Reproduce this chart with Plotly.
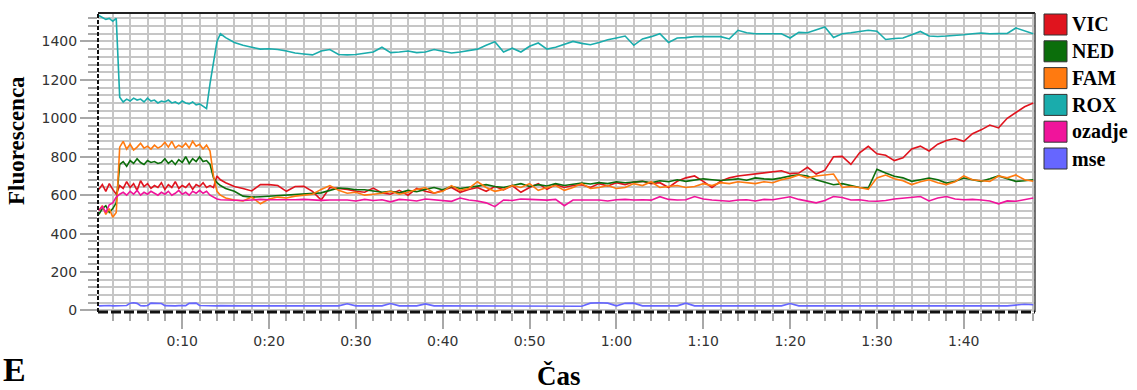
import plotly.graph_objects as go

# ---------------- data ----------------
TIME = [0.4, 0.8, 1.2, 1.6, 2.0, 2.4, 2.8, 3.2, 3.6, 4.0, 4.4, 4.8, 5.2, 5.6, 6.0, 6.4, 6.8, 7.2,
        7.6, 8.0, 8.4, 8.8, 9.2, 9.6, 10.0, 10.4, 10.8, 11.2, 11.6, 12.0, 12.4, 12.8, 13.2, 13.6, 14.0, 14.4,
        15, 16, 17, 18, 19, 20, 21, 22, 23, 24, 25, 26, 27, 28, 29, 30, 31, 32, 33, 34, 35, 36, 37, 38, 39,
        40, 41, 42, 43, 44, 45, 46, 47, 48, 49, 50, 51, 52, 53, 54, 55, 56, 57, 58, 59, 60, 61, 62, 63, 64,
        65, 66, 67, 68, 69, 70, 71, 72, 73, 74, 75, 76, 77, 78, 79, 80, 81, 82, 83, 84, 85, 86, 87, 88, 89,
        90, 91, 92, 93, 94, 95, 96, 97, 98, 99, 100, 101, 102, 103, 104, 105, 106, 107, 108]

VIC = [630, 655, 620, 660, 630, 605, 650, 635, 670, 640, 660, 625, 675, 645, 660, 635, 650, 640,
       665, 630, 655, 640, 670, 635, 650, 640, 660, 630, 655, 645, 665, 640, 650, 640, 700, 680,
       665, 645, 635, 622, 655, 655, 650, 620, 645, 646, 620, 575, 640, 635, 630, 620, 615, 637, 612, 605,
       625, 600, 635, 620, 610, 625, 640, 615, 630, 640, 620, 645, 628, 650, 615, 640, 660, 630, 655, 640,
       650, 654, 640, 660, 648, 665, 655, 668, 672, 660, 665, 640, 672, 690, 700, 672, 640, 672, 690, 700,
       705, 710, 715, 720, 727, 712, 715, 745, 710, 730, 800, 802, 760, 820, 854, 815, 808, 780, 795, 840,
       855, 830, 865, 885, 895, 880, 920, 940, 965, 950, 1000, 1030, 1060, 1080]

NED = [500, 530, 545, 510, 530, 560, 760, 775, 750, 780, 765, 790, 770, 760, 780, 770, 775, 765,
       770, 790, 765, 780, 760, 785, 770, 800, 765, 790, 775, 800, 775, 780, 760, 690, 665, 650,
       635, 620, 595, 590, 592, 595, 600, 600, 602, 605, 608, 612, 625, 637, 635, 628, 628, 622, 615, 620,
       612, 625, 618, 630, 640, 628, 645, 635, 640, 647, 655, 645, 640, 650, 660, 645, 655, 648, 660, 650,
       655, 663, 658, 665, 660, 670, 665, 668, 672, 665, 675, 670, 680, 672, 678, 685, 680, 676, 680, 685,
       678, 690, 685, 682, 690, 700, 706, 700, 680, 665, 654, 660, 648, 640, 637, 735, 715, 698, 690, 672,
       680, 689, 680, 663, 672, 689, 680, 672, 685, 700, 685, 672, 675, 680]

FAM = [520, 545, 500, 530, 485, 510, 850, 880, 840, 865, 835, 850, 870, 845, 855, 840, 860, 845,
       855, 875, 850, 880, 845, 860, 850, 870, 845, 880, 855, 865, 840, 860, 830, 700, 620, 600,
       585, 575, 570, 590, 555, 580, 590, 585, 595, 600, 605, 630, 650, 625, 610, 615, 600, 605, 610, 620,
       605, 615, 630, 640, 610, 620, 650, 625, 635, 670, 640, 620, 630, 650, 640, 660, 625, 640, 650, 625,
       640, 660, 635, 640, 650, 635, 640, 660, 650, 670, 640, 645, 650, 640, 645, 660, 650, 665, 660, 670,
       665, 660, 670, 665, 680, 690, 705, 690, 700, 706, 710, 640, 645, 640, 630, 690, 705, 685, 675, 655,
       670, 680, 665, 655, 670, 700, 680, 675, 672, 700, 690, 705, 680, 672]

ROX = [1535, 1525, 1515, 1520, 1505, 1520, 1110, 1085, 1100, 1090, 1105, 1095, 1100, 1085, 1105, 1090, 1095, 1080,
       1090, 1085, 1095, 1080, 1085, 1075, 1090, 1080, 1075, 1085, 1070, 1075, 1060, 1050, 1180, 1300, 1400, 1440,
       1420, 1395, 1380, 1370, 1360, 1362, 1358, 1350, 1340, 1335, 1330, 1350, 1358, 1332, 1330, 1332, 1340, 1345,
       1370, 1342, 1345, 1350, 1342, 1345, 1358, 1350, 1340, 1345, 1352, 1360, 1380, 1398, 1345, 1365, 1345, 1375,
       1392, 1360, 1370, 1385, 1400, 1390, 1383, 1395, 1409, 1418, 1428, 1380, 1413, 1425, 1440, 1395, 1418, 1420,
       1425, 1426, 1426, 1425, 1413, 1458, 1445, 1440, 1440, 1440, 1440, 1418, 1447, 1445, 1458, 1475, 1420, 1440,
       1445, 1450, 1458, 1453, 1410, 1415, 1418, 1435, 1452, 1428, 1426, 1428, 1430, 1435, 1440, 1444, 1440, 1440,
       1442, 1470, 1455, 1440]

OZADJE = [520, 540, 510, 550, 560, 590, 605, 615, 600, 620, 605, 625, 600, 615, 605, 620, 610, 600,
          615, 605, 620, 600, 610, 625, 605, 615, 600, 620, 610, 625, 610, 620, 600, 590, 580, 576,
          575, 575, 572, 575, 578, 576, 575, 574, 576, 578, 575, 573, 575, 576, 575, 570, 578, 572, 576, 565,
          578, 575, 570, 580, 575, 572, 568, 585, 575, 570, 560, 540, 575, 572, 580, 578, 576, 574, 578, 545,
          575, 576, 574, 575, 570, 576, 578, 575, 576, 574, 592, 578, 575, 576, 593, 580, 575, 570, 568, 575,
          576, 570, 578, 576, 585, 592, 578, 570, 560, 572, 593, 588, 575, 576, 570, 568, 572, 580, 585, 590,
          593, 570, 585, 593, 580, 576, 578, 575, 570, 555, 570, 568, 575, 585]

MSE = [24, 25, 24, 26, 24, 25, 24, 25, 26, 38, 40, 37, 25, 24, 26, 38, 37, 39,
       36, 25, 24, 25, 24, 25, 26, 25, 37, 39, 38, 26, 25, 24, 25, 24, 24, 25,
       24, 24, 24, 24, 24, 24, 24, 24, 24, 24, 24, 24, 24, 24, 35, 24, 24, 24, 24, 36,
       24, 24, 24, 34, 24, 24, 24, 24, 24, 24, 24, 24, 24, 22, 22, 22, 22, 22, 22, 22,
       22, 22, 38, 40, 38, 24, 37, 38, 24, 24, 24, 24, 24, 38, 24, 24, 24, 24, 24, 24,
       24, 24, 24, 24, 24, 36, 24, 24, 24, 24, 24, 24, 24, 24, 24, 24, 24, 24, 24, 24,
       24, 24, 24, 24, 24, 24, 24, 24, 24, 24, 24, 28, 32, 30]

SERIES = ["VIC", "NED", "FAM", "ROX", "ozadje", "mse"]
VALUES = [VIC, NED, FAM, ROX, OZADJE, MSE]
COLORS = ["#e0141e", "#0b6e0b", "#ff7a10", "#1aacac", "#f0149b", "#6666ff"]

X_TICKS = [10, 20, 30, 40, 50, 60, 70, 80, 90, 100]
X_LABELS = ["0:10", "0:20", "0:30", "0:40", "0:50", "1:00", "1:10", "1:20", "1:30", "1:40"]
Y_TICKS = [0, 200, 400, 600, 800, 1000, 1200, 1400]

# ---------------- layout geometry ----------------
W, H = 1137, 390
L, R, T, B = 98, 1035, 13, 312


def px(x):
    return (x - L) / (R - L)


def py(y):
    return (B - y) / (B - T)


fig = go.Figure()
for name, vals, col in zip(SERIES, VALUES, COLORS):
    fig.add_trace(go.Scatter(x=TIME, y=vals, mode="lines", name=name,
                             line=dict(color=col, width=1.6), showlegend=False))

GRID = "#c6c6c6"
TICKC = "#a8a8a8"
tickfont = dict(family="DejaVu Sans", size=14, color="#333333")

fig.update_layout(
    width=W, height=H,
    margin=dict(l=L, r=W - R, t=T, b=H - B, pad=0),
    paper_bgcolor="white", plot_bgcolor="white",
    showlegend=False,
    xaxis=dict(range=[0.3, 108.2], tickmode="array", tickvals=X_TICKS, ticktext=X_LABELS,
               ticks="outside", ticklen=16, tickwidth=2, tickcolor=TICKC,
               showgrid=True, gridcolor=GRID, gridwidth=2, zeroline=False, showline=False,
               tickfont=tickfont,
               minor=dict(tickmode="linear", tick0=0, dtick=2, ticks="outside", ticklen=8,
                          tickwidth=2, tickcolor=TICKC, showgrid=True, gridcolor=GRID, gridwidth=2)),
    yaxis=dict(range=[-8, 1548], tickmode="array", tickvals=Y_TICKS,
               ticks="outside", ticklen=17, tickwidth=2, tickcolor=TICKC,
               showgrid=True, gridcolor=GRID, gridwidth=2, zeroline=False, showline=False,
               tickfont=tickfont,
               minor=dict(tickmode="linear", tick0=0, dtick=40, ticks="outside", ticklen=9,
                          tickwidth=2, tickcolor=TICKC, showgrid=True, gridcolor=GRID, gridwidth=2)),
)

# frame
shapes = [
    dict(type="line", xref="paper", yref="paper", x0=0, x1=1, y0=1, y1=1,
         line=dict(color="#222222", width=2)),
    dict(type="line", xref="paper", yref="paper", x0=1, x1=1, y0=0, y1=1,
         line=dict(color="#444444", width=1.5)),
    dict(type="line", xref="paper", yref="paper", x0=0, x1=0, y0=0, y1=1,
         line=dict(color="#111111", width=2, dash="4px,2px")),
    dict(type="line", xref="paper", yref="paper", x0=0, x1=1, y0=0, y1=0,
         line=dict(color="#111111", width=3, dash="10px,3px")),
]

annotations = []
# legend (drawn manually)
for i, (name, col) in enumerate(zip(SERIES, COLORS)):
    top = 14 + i * 26.8
    shapes.append(dict(type="rect", xref="paper", yref="paper",
                       x0=px(1044), x1=px(1067), y0=py(top + 21), y1=py(top),
                       fillcolor=col, line=dict(color="#333333", width=1)))
    annotations.append(dict(xref="paper", yref="paper", x=px(1070), y=py(top + 10.5),
                            xanchor="left", yanchor="middle", showarrow=False,
                            text="<b>%s</b>" % name,
                            font=dict(family="Liberation Serif", size=20, color="black")))

annotations += [
    dict(xref="paper", yref="paper", x=px(16), y=py(141), textangle=-90,
         xanchor="center", yanchor="middle", showarrow=False, text="<b>Fluorescenca</b>",
         font=dict(family="Liberation Serif", size=23, color="black")),
    dict(xref="paper", yref="paper", x=px(559), y=py(376),
         xanchor="center", yanchor="middle", showarrow=False, text="<b>Čas</b>",
         font=dict(family="Liberation Serif", size=27, color="black")),
    dict(xref="paper", yref="paper", x=px(1), y=py(390),
         xanchor="left", yanchor="bottom", showarrow=False, text="<b>E</b>",
         font=dict(family="Liberation Serif", size=34, color="black")),
]

fig.update_layout(shapes=shapes, annotations=annotations)
fig.write_html("out.html", config={"displayModeBar": False})
